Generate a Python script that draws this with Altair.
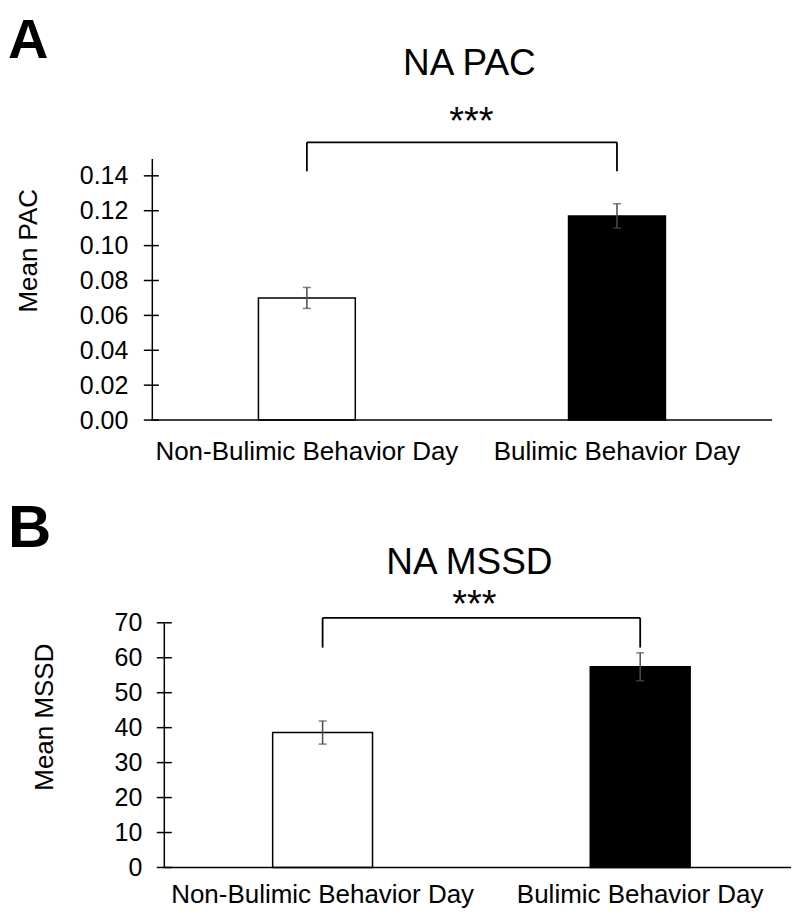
import altair as alt
import pandas as pd

# ---- data ----
cats = ["Non-Bulimic Behavior Day", "Bulimic Behavior Day"]
fills = ["white", "black"]

pac_mean = [0.070, 0.117]
pac_lo = [0.064, 0.110]
pac_hi = [0.076, 0.124]
pac_ticks = [0.00, 0.02, 0.04, 0.06, 0.08, 0.10, 0.12, 0.14]
pac_bracket_top = 0.1592
pac_bracket_leg = 0.1426
pac_star_y = 0.1638

mssd_mean = [38.6, 57.4]
mssd_lo = [35.3, 53.4]
mssd_hi = [41.9, 61.4]
mssd_ticks = [0, 10, 20, 30, 40, 50, 60, 70]
mssd_bracket_top = 71.4
mssd_bracket_leg = 62.9
mssd_star_y = 71.6

FONT = "Liberation Sans"


def panel(letter, title, ytitle, means, los, his, ticks, ymax, fmt,
          br_top, br_leg, star_y, width, height, x0, x1, bar_size,
          letter_x, letter_y, letter_size, title_x, title_y, star_x,
          ytitle_x, ytitle_y, label_pad_y, label_pad_x, tick_l, tick_r, axis_end, top_y):
    df = pd.DataFrame({"cat": cats, "mean": means, "lo": los, "hi": his, "fill": fills})
    xs = alt.Scale(domain=cats, range=[x0, x1], paddingInner=0, paddingOuter=0)
    ys = alt.Scale(domain=[0, ymax], nice=False, zero=True)
    xaxis = alt.Axis(title=None, labelAngle=0, ticks=False, tickSize=0, labelLimit=600,
                     labelFontSize=26, labelColor="black", labelPadding=label_pad_x,
                     domain=False, labelFont=FONT)
    yaxis = alt.Axis(title=ytitle, values=ticks, format=fmt, grid=False, offset=-x0,
                     ticks=False, tickSize=0, labelFontSize=25, labelColor="black",
                     labelPadding=label_pad_y, domainColor="black", domainWidth=1.5,
                     labelFont=FONT, titleFont=FONT, titleFontSize=26,
                     titleFontWeight="normal", titleColor="black",
                     titleAngle=270, titleBaseline="alphabetic", titleAlign="center",
                     titleX=ytitle_x, titleY=ytitle_y)

    def X(field="cat"):
        return alt.X(field, type="nominal", scale=xs, sort=cats, axis=xaxis)

    def Y(field):
        return alt.Y(field, type="quantitative", scale=ys, axis=yaxis)

    bars = alt.Chart(df).mark_bar(size=bar_size, stroke="black", strokeWidth=1.5).encode(
        x=X(), y=Y("mean"),
        fill=alt.Fill("fill:N", scale=None, legend=None),
    )

    err = alt.Chart(df).mark_rule(color="#4d4d4d", strokeWidth=1.5).encode(
        x=X(), y=Y("lo"), y2=alt.Y2("hi"))
    cap_lo = alt.Chart(df).mark_tick(color="#4d4d4d", size=8, thickness=1.5).encode(
        x=X(), y=Y("lo"))
    cap_hi = alt.Chart(df).mark_tick(color="#4d4d4d", size=8, thickness=1.5).encode(
        x=X(), y=Y("hi"))

    br_df = pd.DataFrame({"cat": cats, "top": [br_top, br_top], "leg": [br_leg, br_leg]})
    br_h = alt.Chart(pd.DataFrame({"c1": [cats[0]], "c2": [cats[1]], "top": [br_top]})).mark_rule(
        color="black", strokeWidth=1.8).encode(
        x=X("c1"), x2=alt.X2("c2"), y=Y("top"))
    br_v = alt.Chart(br_df).mark_rule(color="black", strokeWidth=1.8).encode(
        x=X(), y=Y("top"), y2=alt.Y2("leg"))

    stars = alt.Chart(pd.DataFrame({"t": ["***"], "sy": [star_y]})).mark_text(
        fontSize=38, font=FONT, color="black", align="center", baseline="alphabetic").encode(
        text="t:N", x=alt.value(star_x), y=Y("sy"))

    ttl = alt.Chart(pd.DataFrame({"t": [title]})).mark_text(
        fontSize=37, font=FONT, color="black", align="center", baseline="alphabetic").encode(
        text="t:N", x=alt.value(title_x), y=alt.value(title_y))

    let = alt.Chart(pd.DataFrame({"t": [letter]})).mark_text(
        fontSize=letter_size, font=FONT, fontWeight="bold", color="black",
        align="left", baseline="top").encode(
        text="t:N", x=alt.value(letter_x), y=alt.value(letter_y))

    tk = alt.Chart(pd.DataFrame({"v": ticks})).mark_rule(color="black", strokeWidth=1.5).encode(
        x=alt.value(x0 + tick_l), x2=alt.value(x0 + tick_r), y=Y("v"))

    # x axis baseline
    base = alt.Chart(pd.DataFrame({"v": [0]})).mark_rule(color="black", strokeWidth=1.5).encode(
        x=alt.value(x0), x2=alt.value(axis_end), y=Y("v"))

    # transparent top margin keeper (keeps panel letter clear of the page edge)
    keep = alt.Chart(pd.DataFrame({"v": [0]})).mark_rule(strokeOpacity=0, strokeWidth=1).encode(
        x=alt.value(letter_x), x2=alt.value(letter_x + 1), y=alt.value(top_y))

    return alt.layer(bars, err, cap_lo, cap_hi, br_h, br_v, stars, ttl, let, tk, base, keep
                     ).properties(width=width, height=height)


# Panel A: plot origin at page x=152; Panel B: y axis drawn 12 px inside its plot area
a = panel("A", "NA PAC", "Mean PAC", pac_mean, pac_lo, pac_hi, pac_ticks, 0.15, ".2f",
          pac_bracket_top, pac_bracket_leg, pac_star_y, 621, 262, 0, 621, 97,
          letter_x=-144, letter_y=-145, letter_size=56, title_x=318, title_y=-83, star_x=320,
          ytitle_x=-115, ytitle_y=92, label_pad_y=24, label_pad_x=19, tick_l=-8, tick_r=7,
          axis_end=621, top_y=-150)

b = panel("B", "NA MSSD", "Mean MSSD", mssd_mean, mssd_lo, mssd_hi, mssd_ticks, 70, "d",
          mssd_bracket_top, mssd_bracket_leg, mssd_star_y, 640, 245, 12, 648, 100,
          letter_x=-144, letter_y=-123, letter_size=60, title_x=318, title_y=-49, star_x=323,
          ytitle_x=-111, ytitle_y=94, label_pad_y=22, label_pad_x=14, tick_l=-7, tick_r=8,
          axis_end=640, top_y=-123)

chart = alt.concat(a, b, columns=1, spacing=34).properties(
    padding=0
).configure(font=FONT).configure_view(stroke=None)

chart.save("out.html", embed_options={"renderer": "svg", "actions": False})
